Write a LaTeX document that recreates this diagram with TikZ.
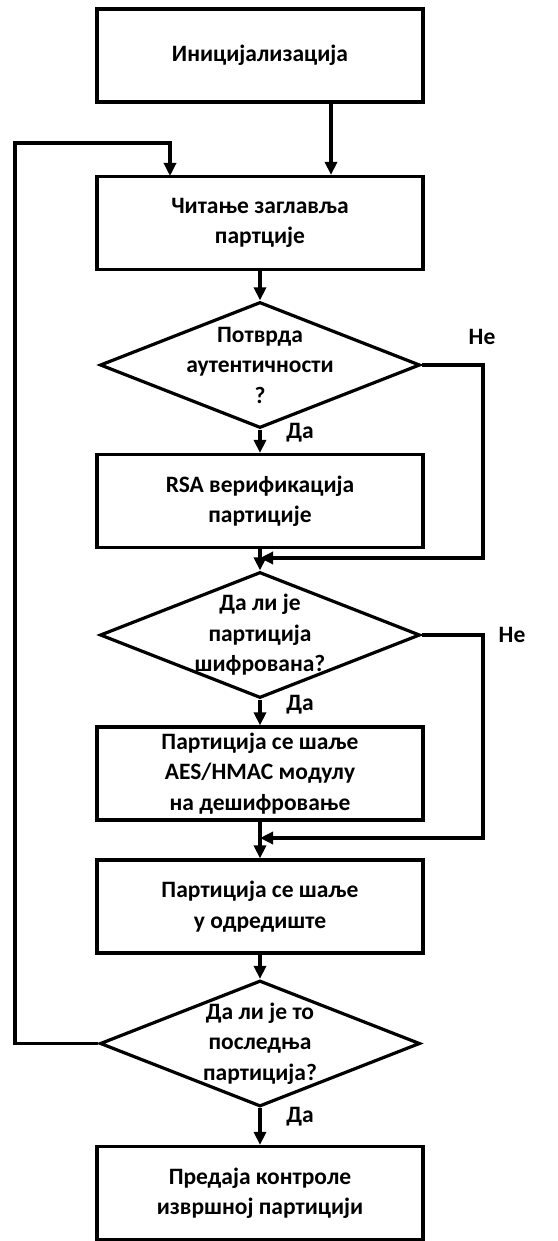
\documentclass[tikz,border=0pt]{standalone}
\usepackage{fontspec}
\setmainfont{Carlito}
\usetikzlibrary{shapes.geometric,arrows.meta}
\begin{document}
\begin{tikzpicture}[x=1pt,y=-1pt,
  font=\bfseries\fontsize{23.5}{30.5}\selectfont,
  line width=3.2pt,
  procbox/.style={draw, rectangle, minimum width=326pt, minimum height=93pt,
    align=center, inner sep=0pt, line width=3.2pt},
  decision/.style={draw, diamond, minimum width=320pt, minimum height=126pt,
    inner sep=0pt, line width=3.2pt},
  flow/.style={-{Triangle[length=13pt,width=12pt]}},
  tag/.style={inner sep=0pt}]
\useasboundingbox (0,0) rectangle (557,1241);

% process boxes
\node[procbox] (init) at (260,55.5) {Иницијализација};
\node[procbox] (read) at (260,223) {Читање заглавља\\партције};
\node[procbox] (rsa)  at (260,501) {RSA верификација\\партиције};
\node[procbox] (aes)  at (260,773.5) {Партиција се шаље\\AES/HMAC модулу\\на дешифровање};
\node[procbox] (dest) at (260,906.5) {Партиција се шаље\\у одредиште};
\node[procbox] (exec) at (260,1193) {Предаја контроле\\извршној партицији};

% decisions
\node[decision, label={[align=center]center:Потврда\\аутентичности\\?}] (auth) at (260,365) {};
\node[decision, label={[align=center]center:Да ли је\\партиција\\шифрована?}] (enc) at (260,635) {};
\node[decision, label={[align=center]center:Да ли је то\\последња\\партиција?}] (last) at (260,1043.5) {};

% junctions and bends
\coordinate (j1) at (260,558);
\coordinate (j2) at (260,838);
\coordinate (loopin) at (170,176);

% main flow
\draw[flow] (init.south -| 331,0) -- (read.north -| 331,0);
\draw[flow] (read) -- (auth);
\draw[flow] (auth) -- (rsa);
\draw[flow] (rsa) -- (enc);
\draw[flow] (enc) -- (aes);
\draw[flow] (aes) -- (dest);
\draw[flow] (dest) -- (last);
\draw[flow] (last) -- (exec);

% "no" branches
\draw[flow] (auth.east) -- (483,365) |- (j1);
\draw[flow] (enc.east) -- (483,635) |- (j2);

% loop back
\draw[flow] (last.west) -- (15,1043.5) |- (170,143) -- (loopin);

% branch labels
\node[tag] (no1) at (482,337) {Не};
\node[tag] (no2) at (512,635) {Не};
\node[tag] (yes1) at (300,433) {Да};
\node[tag] (yes2) at (300,705) {Да};
\node[tag] (yes3) at (300,1117) {Да};
\end{tikzpicture}
\end{document}
